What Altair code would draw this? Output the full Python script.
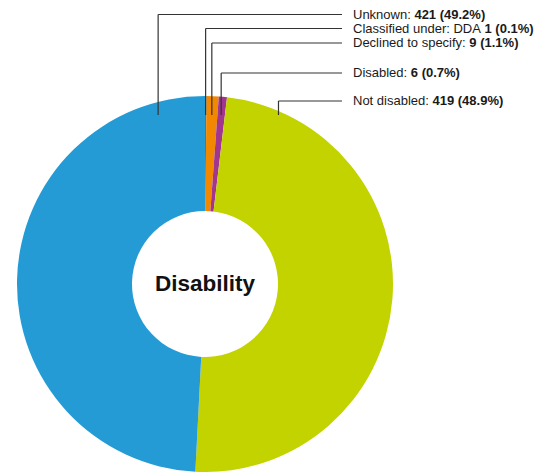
import math
import altair as alt
import pandas as pd

# ---- data ----
categories = ["Classified under: DDA", "Declined to specify", "Disabled", "Not disabled", "Unknown"]
counts = [1, 9, 6, 419, 421]
colors = ["#6d6e70", "#f28700", "#a2368f", "#c3d300", "#259bd6"]
label_names = ["Classified under: DDA ", "Declined to specify: ", "Disabled: ", "Not disabled: ", "Unknown: "]
center_title = "Disability"

# ---- layout (pixels, chart coordinates = page - 8) ----
W, H = 527, 464
CX, CY = 197, 276
R_OUT, R_IN = 188, 73
LEADER_BOTTOM = 107
LINE_END_X = 334
TEXT_X = 345
label_y = [20.5, 35, 65, 93, 6.5]
ANGLE_MIN, ANGLE_MAX = -15.5, 23.5
FONT = "Liberation Sans"
FS = 13

# Arial / Liberation Sans advance widths (1/1000 em)
AW = {" ": 278, ":": 278, "A": 667, "C": 722, "D": 722, "N": 722, "U": 722,
      "a": 556, "b": 556, "c": 500, "d": 556, "e": 556, "f": 278, "i": 222,
      "k": 500, "l": 222, "n": 556, "o": 556, "p": 556, "r": 333, "s": 500,
      "t": 278, "u": 556, "w": 722, "y": 500}


def text_width(s, size):
    return sum(AW.get(ch, 556) for ch in s) * size / 1000.0


total = sum(counts)
rows = []
cum = 0
for i, (cat, n) in enumerate(zip(categories, counts)):
    start = cum / total * 360
    cum += n
    end = cum / total * 360
    mid = (start + end) / 2
    if mid > 180:
        mid -= 360
    ang = max(ANGLE_MIN, min(ANGLE_MAX, mid))
    ax = CX + (CY - LEADER_BOTTOM) * math.tan(math.radians(ang))
    pct = n / total * 100
    rows.append({
        "cat": cat, "value": n, "ord": i,
        "name": label_names[i],
        "val": f"{n} ({pct:.1f}%)",
        "ax": ax, "ab": LEADER_BOTTOM, "ly": label_y[i],
        "lx2": LINE_END_X, "tx": TEXT_X,
        "bx": TEXT_X + text_width(label_names[i], FS),
    })
df = pd.DataFrame(rows)

color_scale = alt.Scale(domain=categories, range=colors)

base = alt.Chart(df)

arc = base.mark_arc(innerRadius=R_IN, outerRadius=R_OUT, stroke=None).encode(
    theta=alt.Theta("value:Q", stack=True),
    color=alt.Color("cat:N", scale=color_scale, legend=None),
    order=alt.Order("ord:Q"),
    x=alt.value(CX),
    y=alt.value(CY),
)

vline = base.mark_rule(color="#333333", strokeWidth=1.2).encode(
    x=alt.X("ax:Q", scale=None, axis=None),
    y=alt.Y("ab:Q", scale=None, axis=None),
    y2="ly:Q",
)

hline = base.mark_rule(color="#333333", strokeWidth=1.2).encode(
    x=alt.X("ax:Q", scale=None, axis=None),
    x2="lx2:Q",
    y=alt.Y("ly:Q", scale=None, axis=None),
)

name_text = base.mark_text(align="left", baseline="middle", font=FONT, fontSize=FS,
                           color="#1a1a1a").encode(
    x=alt.X("tx:Q", scale=None, axis=None),
    y=alt.Y("ly:Q", scale=None, axis=None),
    text="name:N",
)

val_text = base.mark_text(align="left", baseline="middle", font=FONT, fontSize=FS,
                          fontWeight="bold", color="#1a1a1a").encode(
    x=alt.X("bx:Q", scale=None, axis=None),
    y=alt.Y("ly:Q", scale=None, axis=None),
    text="val:N",
)

title_df = pd.DataFrame({"t": [center_title]})
center = alt.Chart(title_df).mark_text(align="center", baseline="middle", font=FONT,
                                       fontSize=22.5, fontWeight="bold",
                                       color="#111111").encode(
    x=alt.value(CX), y=alt.value(CY), text="t:N")

chart = alt.layer(arc, vline, hline, name_text, val_text, center).properties(
    width=W, height=H, padding=0, autosize=alt.AutoSizeParams(type="none"),
    background="white",
).configure_view(stroke=None)

chart.save("out.html", embed_options={"renderer": "svg", "actions": False})
